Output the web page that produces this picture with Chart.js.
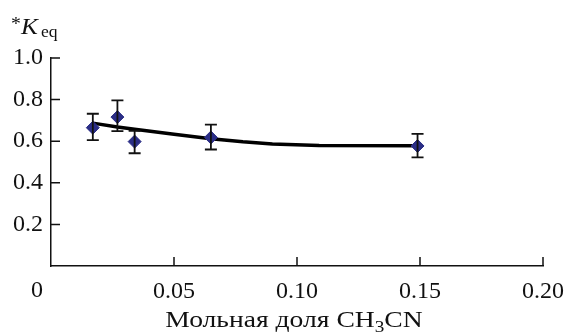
<!DOCTYPE html>
<html lang="en">
    <head>
        <meta charset="UTF-8" />
        <title>Keq vs CH3CN</title>
        <script src="https://cdn.jsdelivr.net/npm/chart.js"></script>
        <style>
            body { margin: 0; background: #fff; }
            #wrap { width: 567px; height: 335px; }
        </style>
    </head>
    <body>
        <div id="wrap"><canvas id="myChart"></canvas></div>

        <script>
            // measured points with error bars
            const xPoints = [0.017, 0.027, 0.034, 0.065, 0.149];
            const kPoints = [0.665, 0.716, 0.598, 0.618, 0.577];
            const errLow = [0.605, 0.648, 0.542, 0.560, 0.522];
            const errHigh = [0.732, 0.796, 0.650, 0.680, 0.635];

            // fitted curve
            const xLine = [0.017, 0.027, 0.034, 0.05, 0.065, 0.078, 0.09, 0.109, 0.149];
            const kLine = [0.687, 0.668, 0.657, 0.633, 0.612, 0.597, 0.587, 0.579, 0.578];

            const xTicks = [0, 0.05, 0.1, 0.15, 0.2];
            const yTicks = [0, 0.2, 0.4, 0.6, 0.8, 1.0];

            const serif = "'Liberation Serif', 'DejaVu Serif', serif";

            // draw text stretched a bit horizontally, like the scanned figure
            function wideText(ctx, text, x, y, sx) {
                ctx.save();
                ctx.translate(x, y);
                ctx.scale(sx, 1);
                ctx.fillText(text, 0, 0);
                ctx.restore();
                return ctx.measureText(text).width * sx;
            }

            const extras = {
                id: "extras",
                afterDatasetsDraw(chart) {
                    // error bars
                    const ctx = chart.ctx;
                    const xs = chart.scales.x, ys = chart.scales.y;
                    ctx.save();
                    ctx.strokeStyle = "#111";
                    ctx.lineWidth = 1.8;
                    xPoints.forEach((xv, i) => {
                        const px = xs.getPixelForValue(xv);
                        const lo = ys.getPixelForValue(errLow[i]);
                        const hi = ys.getPixelForValue(errHigh[i]);
                        ctx.beginPath();
                        ctx.moveTo(px, lo); ctx.lineTo(px, hi);
                        ctx.moveTo(px - 6, lo); ctx.lineTo(px + 6, lo);
                        ctx.moveTo(px - 6, hi); ctx.lineTo(px + 6, hi);
                        ctx.stroke();
                    });
                    ctx.restore();
                },
                afterDraw(chart) {
                    const ctx = chart.ctx;
                    const xs = chart.scales.x, ys = chart.scales.y;
                    const a = chart.chartArea;
                    ctx.save();
                    // inner ticks
                    ctx.strokeStyle = "#111";
                    ctx.lineWidth = 1.5;
                    ctx.beginPath();
                    yTicks.forEach((v) => {
                        if (v === 0) return;
                        const py = ys.getPixelForValue(v);
                        ctx.moveTo(a.left, py); ctx.lineTo(a.left + 9, py);
                    });
                    xTicks.forEach((v) => {
                        if (v === 0) return;
                        const px = xs.getPixelForValue(v);
                        ctx.moveTo(px, a.bottom); ctx.lineTo(px, a.bottom - 9);
                    });
                    ctx.stroke();

                    ctx.fillStyle = "#111";
                    // "0" under the origin, shifted left
                    ctx.font = "24px " + serif;
                    ctx.textAlign = "center";
                    ctx.textBaseline = "alphabetic";
                    ctx.fillText("0", xs.getPixelForValue(0) - 14, 297);

                    // x axis title with subscript
                    const sx = 1.2;
                    const p1 = "Мольная доля CH", p2 = "3", p3 = "CN";
                    ctx.textAlign = "left";
                    ctx.font = "23px " + serif;
                    const w1 = ctx.measureText(p1).width * sx, w3 = ctx.measureText(p3).width * sx;
                    ctx.font = "16px " + serif;
                    const w2 = ctx.measureText(p2).width * sx;
                    let x0 = 294 - (w1 + w2 + w3) / 2;
                    ctx.font = "23px " + serif;
                    wideText(ctx, p1, x0, 327, sx);
                    ctx.font = "16px " + serif;
                    wideText(ctx, p2, x0 + w1, 332, sx);
                    ctx.font = "23px " + serif;
                    wideText(ctx, p3, x0 + w1 + w2, 327, sx);

                    // y axis title *K_eq
                    ctx.font = "18px " + serif;
                    wideText(ctx, "*", 11, 30, 1.1);
                    ctx.font = "italic 23px " + serif;
                    wideText(ctx, "K", 21, 34, 1.1);
                    ctx.font = "16px " + serif;
                    wideText(ctx, "eq", 41, 37, 1.1);
                    ctx.restore();
                },
            };

            const ctx = document.getElementById("myChart").getContext("2d");
            const myChart = new Chart(ctx, {
                type: "scatter",
                data: {
                    datasets: [
                        {
                            type: "line",
                            data: xLine.map((x, i) => ({ x: x, y: kLine[i] })),
                            borderColor: "#000",
                            borderWidth: 3.5,
                            pointRadius: 0,
                            fill: false,
                            tension: 0,
                            order: 2,
                        },
                        {
                            data: xPoints.map((x, i) => ({ x: x, y: kPoints[i] })),
                            pointStyle: "rectRot",
                            pointRadius: 6.5,
                            backgroundColor: "#2b2e86",
                            borderColor: "#2b2e86",
                            borderWidth: 1,
                            order: 1,
                        },
                    ],
                },
                options: {
                    responsive: true,
                    maintainAspectRatio: false,
                    animation: false,
                    layout: { padding: { left: 0, top: 58, right: 24, bottom: 0 } },
                    plugins: {
                        legend: { display: false },
                        tooltip: { enabled: false },
                    },
                    scales: {
                        x: {
                            type: "linear",
                            min: 0,
                            max: 0.2,
                            afterFit: (s) => {
                                s.height = 69;
                                s.paddingLeft = 0;
                                s.paddingRight = 0;
                            },
                            afterBuildTicks: (s) => { s.ticks = xTicks.map((v) => ({ value: v })); },
                            grid: { display: false, drawTicks: false },
                            border: { display: true, color: "#111", width: 1.5 },
                            ticks: {
                                padding: 11,
                                color: "#111",
                                font: { family: serif, size: 24 },
                                callback: (v) => (v === 0 ? "" : v.toFixed(2)),
                            },
                        },
                        y: {
                            min: 0,
                            max: 1.0,
                            afterFit: (s) => {
                                s.width = 51;
                                s.paddingTop = 0;
                                s.paddingBottom = 0;
                            },
                            afterBuildTicks: (s) => { s.ticks = yTicks.map((v) => ({ value: v })); },
                            grid: { display: false, drawTicks: false },
                            border: { display: true, color: "#111", width: 1.5 },
                            ticks: {
                                padding: 8,
                                color: "#111",
                                font: { family: serif, size: 24 },
                                callback: (v) => (v === 0 ? "" : v.toFixed(1)),
                            },
                        },
                    },
                },
                plugins: [extras],
            });
        </script>
    </body>
</html>
